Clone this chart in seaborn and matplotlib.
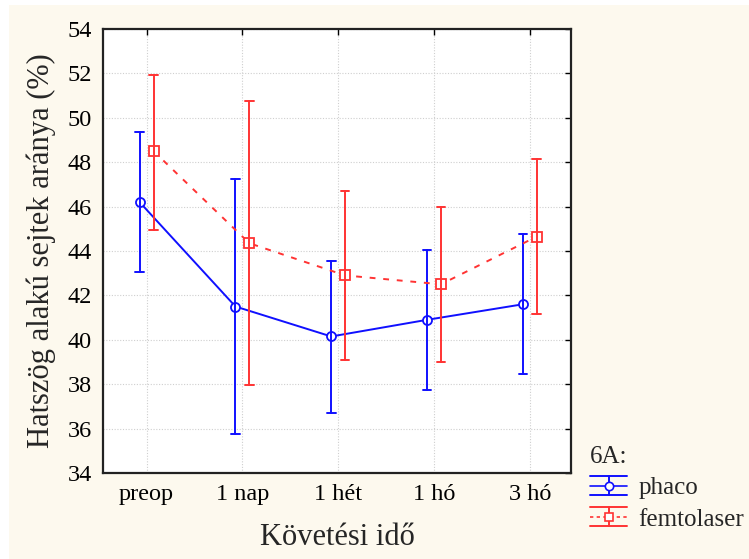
import numpy as np
import pandas as pd
import matplotlib
matplotlib.use("Agg")
import matplotlib.pyplot as plt
from matplotlib.lines import Line2D
from matplotlib.patches import Rectangle
from matplotlib.legend_handler import HandlerBase
import seaborn as sns

# Follow-up time points
timepoints = ["preop", "1 nap", "1 hét", "1 hó", "3 hó"]
groups = ["phaco", "femtolaser"]

# Mean hexagonal cell ratio (%) with 95% confidence limits
phaco_mean = [46.2, 41.5, 40.15, 40.9, 41.6]
phaco_low = [43.05, 35.75, 36.7, 37.75, 38.45]
phaco_high = [49.35, 47.25, 43.55, 44.05, 44.75]

femto_mean = [48.5, 44.35, 42.9, 42.5, 44.65]
femto_low = [44.95, 37.95, 39.1, 39.0, 41.15]
femto_high = [51.95, 50.75, 46.7, 46.0, 48.15]

yticks = [34, 36, 38, 40, 42, 44, 46, 48, 50, 52, 54]

colors = {"phaco": "#1010ff", "femtolaser": "#ff3333"}

# Long table: each cell holds (low, mean, high) so that the median is the
# mean and the full percentile interval spans the confidence limits.
rows = []
for g, lo, mu, hi in [("phaco", phaco_low, phaco_mean, phaco_high),
                      ("femtolaser", femto_low, femto_mean, femto_high)]:
    for t, a, b, c in zip(timepoints, lo, mu, hi):
        for v in (a, b, c):
            rows.append({"Követési idő": t, "csoport": g, "érték": v})
df = pd.DataFrame(rows)

sns.set_style("white")
plt.rcParams["font.family"] = ["Liberation Serif", "DejaVu Serif"]

fig = plt.figure(figsize=(7.49, 5.59), dpi=100, facecolor="white")
fig.patches.append(Rectangle((9 / 749, 0), 1 - 9 / 749, 1 - 5 / 559,
                             transform=fig.transFigure, facecolor="#fdf9ee",
                             edgecolor="none", zorder=-10))
ax = fig.add_axes([103 / 749, 86 / 559, 468 / 749, 444 / 559])
ax.set_facecolor("white")

sns.pointplot(data=df, x="Követési idő", y="érték", hue="csoport",
              order=timepoints, hue_order=groups, palette=colors,
              estimator="median", errorbar=("pi", 100),
              dodge=0.145, capsize=0.09, markers=["o", "s"],
              linestyles=["-", (0, (3, 4))], linewidth=1.4,
              markersize=6.5, legend=False, ax=ax)

for ln in ax.lines:
    ln.set_markerfacecolor("white")
    ln.set_markeredgewidth(1.3)

ax.set_xlim(-0.455, 4.43)
ax.set_ylim(34, 54)
ax.set_yticks(yticks)
ax.grid(True, color="#cfcfcf", linestyle=(0, (1, 1.5)), linewidth=0.8)
ax.set_axisbelow(True)
ax.tick_params(direction="in", length=4, width=1, top=True, right=True,
               labelsize=17.5, colors="black", pad=8)
for s in ax.spines.values():
    s.set_color("#222222")
    s.set_linewidth(1.6)

ax.set_xlabel("Követési idő", fontsize=22, labelpad=13)
ax.set_ylabel("Hatszög alakú sejtek aránya (%)", fontsize=22, labelpad=8)


class ErrGlyph(HandlerBase):
    def __init__(self, color, ls, marker):
        super().__init__()
        self.color, self.ls, self.marker = color, ls, marker

    def create_artists(self, legend, orig_handle, xdescent, ydescent,
                       width, height, fontsize, trans):
        x0, x1 = -xdescent, -xdescent + width
        xm = (x0 + x1) / 2
        y0, y1 = -ydescent, -ydescent + height
        ym = (y0 + y1) / 2
        arts = [
            Line2D([x0, x1], [y1, y1], color=self.color, lw=1.4),
            Line2D([x0, x1], [y0, y0], color=self.color, lw=1.4),
            Line2D([xm, xm], [y0, y1], color=self.color, lw=1.4),
            Line2D([x0, x1], [ym, ym], color=self.color, lw=1.2,
                   linestyle=self.ls),
            Line2D([xm], [ym], color=self.color, marker=self.marker,
                   markersize=6, markerfacecolor="white", mew=1.2),
        ]
        for a in arts:
            a.set_transform(trans)
        return arts


h_phaco = Line2D([], [], color=colors["phaco"])
h_femto = Line2D([], [], color=colors["femtolaser"])
leg = fig.legend([h_phaco, h_femto], groups, title="6A:",
                 loc="upper left", bbox_to_anchor=(590 / 749, 1 - 446 / 559),
                 frameon=False, fontsize=18, title_fontsize=18,
                 handlelength=1.48, handleheight=0.8, handletextpad=0.45,
                 labelspacing=0.32, borderaxespad=0, borderpad=0,
                 handler_map={h_phaco: ErrGlyph(colors["phaco"], "-", "o"),
                              h_femto: ErrGlyph(colors["femtolaser"],
                                                (0, (2, 2)), "s")})
leg._legend_box.align = "left"

fig.savefig("out.png", dpi=100, facecolor=fig.get_facecolor())
